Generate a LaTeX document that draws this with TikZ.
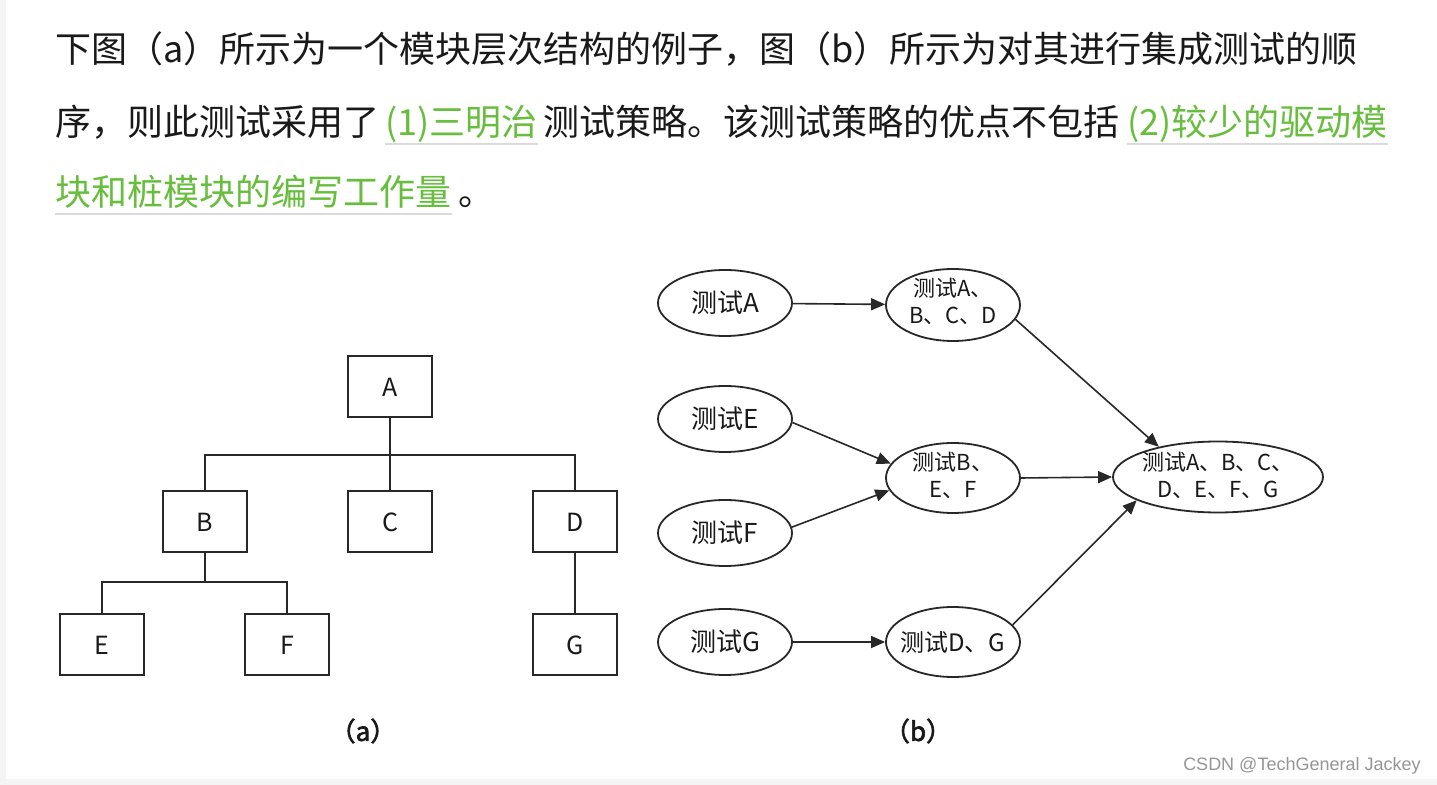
\documentclass[tikz,border=0pt]{standalone}
\usepackage{fontspec}
\newfontfamily\cjk{Noto Sans CJK SC}
\newfontfamily\cjkb[FakeBold=2.5]{Noto Sans CJK SC}
\newfontfamily\wmfont{Liberation Sans}
\usetikzlibrary{shapes.geometric,arrows.meta,calc}
\definecolor{txt}{RGB}{25,25,25}
\definecolor{grn}{RGB}{103,190,60}
\definecolor{ulc}{RGB}{218,218,218}
\definecolor{ln}{RGB}{40,40,40}
\definecolor{bgg}{RGB}{244,244,244}
\definecolor{wmc}{RGB}{150,150,150}
\tikzset{
  para/.style={anchor=base west, inner sep=0pt, text=txt, font=\cjk\fontsize{18}{21}\selectfont},
  green/.style={text=grn},
  uline/.style={draw=ulc, line width=1pt},
  mod/.style={draw=ln, line width=1pt, minimum width=42pt, minimum height=30.5pt, inner sep=0pt, text=txt, font=\cjk\fontsize{12.5}{14}\selectfont},
  tree/.style={draw=ln, line width=1pt},
  ell/.style={ellipse, draw=ln, line width=0.9pt, minimum width=67pt, minimum height=33pt, inner sep=0pt},
  etxt/.style={text=txt, inner sep=0pt, align=center, font=\cjk\fontsize{13}{15}\selectfont},
  etxts/.style={text=txt, inner sep=0pt, align=center, font=\cjk\fontsize{11}{13.5}\selectfont},
  arr/.style={draw=ln, line width=0.8pt, -{Triangle[length=7pt,width=6pt]}},
  captxt/.style={text=txt, inner sep=0pt, font=\cjkb\fontsize{13}{15}\selectfont},
}
\begin{document}
\begin{tikzpicture}[x=0.5pt,y=-0.5pt]
\useasboundingbox (0,0) rectangle (1437,785);
\fill[white] (0,0) rectangle (1437,785);
\fill[bgg] (0,0) rectangle (6,785);
\fill[bgg] (0,779) rectangle (1437,785);
% paragraph
\node[para] (l1) at (55,63) {下图（a）所示为一个模块层次结构的例子，图（b）所示为对其进行集成测试的顺};
\node[para] (l2a) at (55,136) {序，则此测试采用了};
\node[para,green] (g1) at (385,136) {(1)三明治};
\node[para] (l2b) at (543,136) {测试策略。该测试策略的优点不包括};
\node[para,green] (g2) at (1127,136) {(2)较少的驱动模};
\node[para,green] (g3) at (55,206) {块和桩模块的编写工作量};
\node[para] (l3b) at (458,206) {。};
\draw[uline] ($(g1.base west)+(0,8)$) -- ($(g1.base east)+(0,8)$);
\draw[uline] ($(g2.base west)+(0,8)$) -- ($(g2.base east)+(0,8)$);
\draw[uline] ($(g3.base west)+(0,8)$) -- ($(g3.base east)+(0,8)$);
% (a) tree
\node[mod] (A) at (390,387) {A};
\node[mod] (B) at (205,522) {B};
\node[mod] (C) at (390,522) {C};
\node[mod] (D) at (575,522) {D};
\node[mod] (E) at (102,645) {E};
\node[mod] (F) at (287,645) {F};
\node[mod] (G) at (575,645) {G};
\coordinate (bar1) at (390,455);
\coordinate (bar2) at (205,582);
\draw[tree] (A.south) -- (C.north);
\draw[tree] (B.north) |- (bar1) -| (D.north);
\draw[tree] (B.south) -- (bar2);
\draw[tree] (E.north) |- (bar2) -| (F.north);
\draw[tree] (D.south) -- (G.north);
\node[captxt] (capa) at (363,731) {（a）};
% (b) graph
\node[ell, label={[etxt]center:测试A}] (tA) at (725,303) {};
\node[ell, label={[etxt]center:测试E}] (tE) at (725,419) {};
\node[ell, label={[etxt]center:测试F}] (tF) at (725,533) {};
\node[ell, label={[etxt]center:测试G}] (tG) at (725,642) {};
\node[ell, minimum height=36pt, label={[etxts,yshift=2pt]center:{测试A、\\B、C、D}}] (tABCD) at (953,305) {};
\node[ell, minimum height=35pt, label={[etxts,yshift=1.5pt]center:{测试B、\\E、F}}] (tBEF) at (953,478) {};
\node[ell, minimum height=35pt, label={[etxt,font=\cjk\fontsize{12}{14}\selectfont]center:测试D、G}] (tDG) at (953,642) {};
\node[ell, minimum width=105pt, minimum height=35.5pt, label={[etxts,yshift=1pt]center:{测试A、B、C、\\D、E、F、G}}] (tAll) at (1218,477) {};
\draw[arr] (tA) -- (tABCD);
\draw[arr] (tE.-3) -- (tBEF.167);
\draw[arr] (tF.5) -- (tBEF.191);
\draw[arr] (tG) -- (tDG);
\draw[arr] (tABCD.-13) -- (tAll.153);
\draw[arr] (tBEF.east) -- (tAll.west);
\draw[arr] (tDG.16) -- (tAll.196);
\node[captxt] (capb) at (918,731) {（b）};
\node[anchor=east, inner sep=0pt, text=wmc, font=\wmfont\fontsize{9}{11}\selectfont] (wm) at (1421,766) {CSDN @TechGeneral Jackey};
\end{tikzpicture}
\end{document}
